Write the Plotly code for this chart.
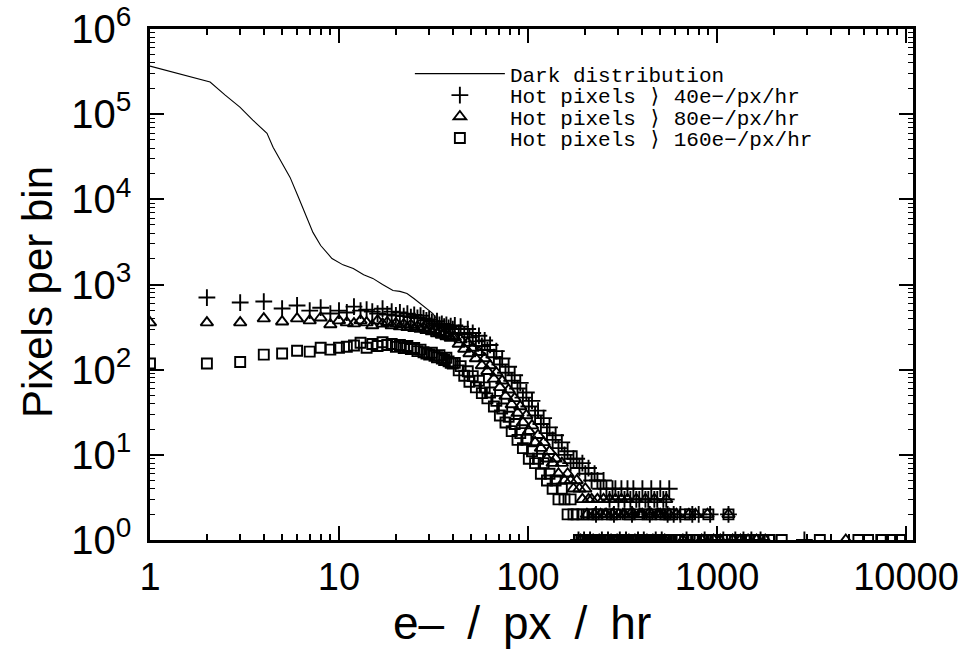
import plotly.graph_objects as go

# ---------------- data ----------------
dark_x = [1.0, 1.5, 2.08, 2.5, 2.99, 3.5, 4.16, 4.48, 5.0, 5.51, 6.1, 6.77, 7.28, 8.0,
          9.18, 10.5, 11.9, 13.5, 15.1, 17.0, 19.3, 21.0, 22.9, 25.0, 27.8, 29.5,
          31.4, 33.0, 34.2, 36.5, 38.6]
dark_y = [367000, 290000, 238000, 167000, 121000, 85000, 59700, 40900, 26500, 18100,
          10600, 6140, 4090, 2870, 2020, 1700, 1540, 1300, 1180, 1000, 850, 830, 784,
          680, 566, 510, 456, 390, 357, 320, 288]

bins = [1, 2, 3, 4, 5, 6, 7, 8, 9, 10, 11, 12, 13, 14, 15, 16, 17, 18, 19, 20,
        21, 22, 23, 24, 25, 26, 27, 28, 29, 30, 31, 32, 33, 34, 35, 36, 37, 38, 39, 40,
        41, 43, 44, 46, 48, 49, 51, 53, 55, 57, 59, 61, 63, 66, 68, 71, 73, 76, 79, 82,
        85, 88, 91, 94, 98, 101, 105, 109, 113, 117, 121, 126, 130, 135, 140, 145, 151,
        156, 162, 168, 174, 181, 187, 194, 201, 209, 217, 225, 233, 242, 251, 260, 270,
        280, 290, 301, 312, 324, 336, 348, 361, 374, 388, 403, 418, 433, 449, 466, 483,
        501, 520, 539, 559]

counts_40 = [None, 703, 614, 631, 522, 567, 494, 534, 456, 494,
             469, 550, 494, 505, 480, 456, 520, 445, 480, 433,
             470, 425, 455, 415, 440, 405, 430, 400, 380, 390,
             365, 350, 370, 335, 345, 320, 335, 310, 325, 300,
             330, 270, 320, 260, 300, 240, 270, 215, 250, 190, 220, 170, 195, 140, 165,
             115, 135, 92, 108, 74, 86, 60, 70, 47, 54, 37, 43, 29, 33, 23, 27, 18, 21,
             15, 17, 12, 14, 10, 11, 8, 9, 9, 7, 8, 6, 7, 5, 6, 5, 4, 5, 4, 3, 4, 4,
             3, 4, 3, 4, 3, 4, 3, 3, 4, 3, 3, 4, 3, 3, 4, 3, 3, 4]

counts_80 = [357, 357, 357, 398, 366, 398, 377, 407, 339, 377,
             357, 347, 377, 357, 330, 377, 345, 360, 330, 350,
             320, 340, 315, 335, 305, 320, 300, 310, 290, 300,
             280, 290, 265, 275, 255, 265, 245, 250, 235, 240,
             240, 200, 225, 175, 205, 155, 180, 135, 160, 112, 135, 96, 112, 78, 92,
             62, 74, 49, 58, 39, 46, 31, 37, 24, 29, 19, 22, 14, 17, 12, 14, 9, 11,
             8, 9, 6, 8, 5, 6, 5, 4, 5, 4, 3, 4, 3, 3, 2, 3, 2, 3, 2, 3, 2, 3,
             2, 3, 2, 3, 2, 2, 3, 2, 2, 3, 2, 2, 3, 2, 2, 2, 3, 2]

counts_160 = [118, 118, 123, 150, 155, 167, 163, 181, 172, 181,
              186, 192, 207, 181, 200, 190, 210, 195, 200, 185,
              195, 180, 190, 175, 180, 165, 172, 160, 155, 150,
              158, 145, 140, 148, 135, 130, 138, 125, 120, 118,
              120, 98, 110, 85, 96, 72, 84, 62, 74, 53, 62, 46, 54, 37, 43,
              29, 35, 24, 28, 19, 23, 15, 18, 12, 15, 9, 11, 8, 9, 6, 8, 5, 6,
              4, 5, 3, 4, 3, 2, 3, 2, 2, 1, 2, 1, 2, 1, 1, 2, 1, 1, 2, 1, 1, 2,
              1, 1, 1, 2, 1, 1, 1, 2, 1, 1, 1, 2, 1, 1, 2, 1, 1, 2]

# sparse low-count bins (1-2 pixels per bin) at high rates
tail_x_40 = [185, 198, 213, 229, 246, 265, 285, 306, 330, 355, 382, 410, 441, 474, 510, 548,
             590, 640, 690, 740, 800, 860, 920, 1000, 1080, 1150, 1250, 1380, 1520, 1700, 2900]
tail_y_40 = [1, 1, 1, 2, 1, 1, 2, 1, 1, 2, 1, 1, 2, 1, 1, 2,
             2, 2, 1, 2, 2, 1, 2, 1, 1, 2, 1, 1, 1, 1, 1]
tail_x_80 = [190, 205, 221, 238, 256, 275, 296, 318, 342, 368, 396, 426, 458, 492, 529,
             610, 660, 710, 770, 830, 890, 960, 1040, 1150, 1210, 1330, 1460, 1620, 1800, 4800]
tail_y_80 = [1, 2, 1, 1, 2, 1, 1, 2, 1, 1, 2, 1, 1, 2, 1,
             2, 1, 2, 2, 1, 2, 1, 1, 2, 1, 1, 1, 1, 1, 1]
tail_x_160 = [186, 192, 196, 202, 207, 214, 219, 223, 230, 235, 240, 247, 253, 258, 263,
              268, 278, 284, 293, 299, 304, 315, 321, 327, 339, 345, 352, 364, 371, 378,
              392, 399, 406, 421, 429, 437, 453, 461, 471, 488, 496, 505, 524, 533, 543,
              580, 600, 625, 650, 675, 700, 720, 750, 775, 810, 840, 870, 900, 940, 980,
              1010, 1060, 1100, 1150, 1200, 1280, 1340, 1420, 1480, 1580, 1650, 1760,
              1900, 2200, 3500, 5600, 6300, 7400, 8300, 9300]
tail_y_160 = [1, 1, 1, 1, 1, 1, 1, 2, 1, 1, 1, 1, 1, 1, 1,
              1, 2, 1, 1, 1, 1, 1, 1, 1, 1, 2, 1, 1, 1, 1,
              1, 1, 1, 1, 2, 1, 1, 1, 1, 1, 1, 1, 1, 2, 1,
              2, 1, 1, 1, 2, 1, 2, 1, 1, 1, 1, 1, 2, 1, 1,
              1, 1, 1, 2, 1, 1, 1, 1, 1, 1, 1, 1,
              1, 1, 1, 1, 1, 1, 1, 1]

names = ["Dark distribution",
         "Hot pixels \u27e9 40e\u2212/px/hr",
         "Hot pixels \u27e9 80e\u2212/px/hr",
         "Hot pixels \u27e9 160e\u2212/px/hr"]

x_title = "e\u2013\u2002/\u2002px\u2002/\u2002hr"
y_title = "Pixels per bin"

x_ticks = [1, 10, 100, 1000, 10000]
x_ticktext = ["1", "10", "100", "1000", "10000"]
y_ticks = [1, 10, 100, 1000, 10000, 100000, 1000000]
y_ticktext = ["10<sup>0</sup>", "10<sup>1</sup>", "10<sup>2</sup>", "10<sup>3</sup>",
              "10<sup>4</sup>", "10<sup>5</sup>", "10<sup>6</sup>"]

# ---------------- figure ----------------
fig = go.Figure()
fig.add_trace(go.Scatter(x=dark_x, y=dark_y, mode="lines", name=names[0],
                         legend="legend",
                         line=dict(color="black", width=1.1)))

series = [
    (bins + tail_x_40, counts_40 + tail_y_40, "cross-thin-open", 12, names[1], "legend2"),
    (bins + tail_x_80, counts_80 + tail_y_80, "triangle-up-open", 11, names[2], "legend3"),
    (bins + tail_x_160, counts_160 + tail_y_160, "square-open", 10, names[3], "legend4"),
]
for xs, ys, sym, sz, nm, lg in series:
    fig.add_trace(go.Scatter(x=xs, y=ys, mode="markers", name=nm, legend=lg,
                             marker=dict(symbol=sym, size=sz, color="black",
                                         line=dict(color="black", width=1.9))))

minor_x = [m * d for d in [1, 10, 100, 1000] for m in range(2, 10)]
minor_y = [m * d for d in [1, 10, 100, 1000, 10000, 100000] for m in range(2, 10)]

sans = "Liberation Sans, Arial, sans-serif"
axis_common = dict(
    type="log", showgrid=False, zeroline=False, showline=True, linecolor="black",
    linewidth=2.5, mirror="ticks", ticks="inside", ticklen=14, tickwidth=2,
    tickcolor="black", tickmode="array", automargin=False, ticklabeloverflow="allow",
)

legend_common = dict(x=0.3406, xanchor="left", yanchor="middle",
                     bgcolor="rgba(0,0,0,0)", borderwidth=0, itemwidth=90,
                     font=dict(family="Liberation Mono, Courier New, monospace",
                               size=21, color="black"))

fig.update_layout(
    width=967, height=651,
    margin=dict(l=150, r=54, t=29, b=111),
    paper_bgcolor="white", plot_bgcolor="white",
    hovermode=False,
    xaxis=dict(axis_common, range=[0, 4.037], tickvals=x_ticks, ticktext=x_ticktext,
               ticklabelstandoff=2,
               tickfont=dict(family=sans, size=38, color="black"),
               minor=dict(tickvals=minor_x, ticks="inside", ticklen=6, tickwidth=1.5,
                          tickcolor="black", showgrid=False)),
    yaxis=dict(axis_common, range=[0, 6], tickvals=y_ticks, ticktext=y_ticktext,
               ticklabelstandoff=8,
               tickfont=dict(family=sans, size=40, color="black"),
               minor=dict(tickvals=minor_y, ticks="inside", ticklen=5, tickwidth=1.2,
                          tickcolor="black", showgrid=False)),
    legend=dict(legend_common, y=0.912),
    legend2=dict(legend_common, y=0.870),
    legend3=dict(legend_common, y=0.828),
    legend4=dict(legend_common, y=0.786),
    showlegend=True,
    annotations=[
        dict(text=x_title, xref="paper", yref="paper", x=0.487, y=-0.1624,
             xanchor="center", yanchor="middle", showarrow=False,
             font=dict(family=sans, size=46, color="black")),
        dict(text=y_title, xref="paper", yref="paper", x=-0.148, y=0.4853,
             xanchor="center", yanchor="middle", showarrow=False, textangle=-90,
             font=dict(family=sans, size=42, color="black")),
    ],
)

# remove the page's default 8px body margin so the figure fills the window exactly
fig.write_html("out.html",
               config={"displayModeBar": False},
               post_script="document.body.style.margin='0';"
                           "document.body.style.overflow='hidden';")
